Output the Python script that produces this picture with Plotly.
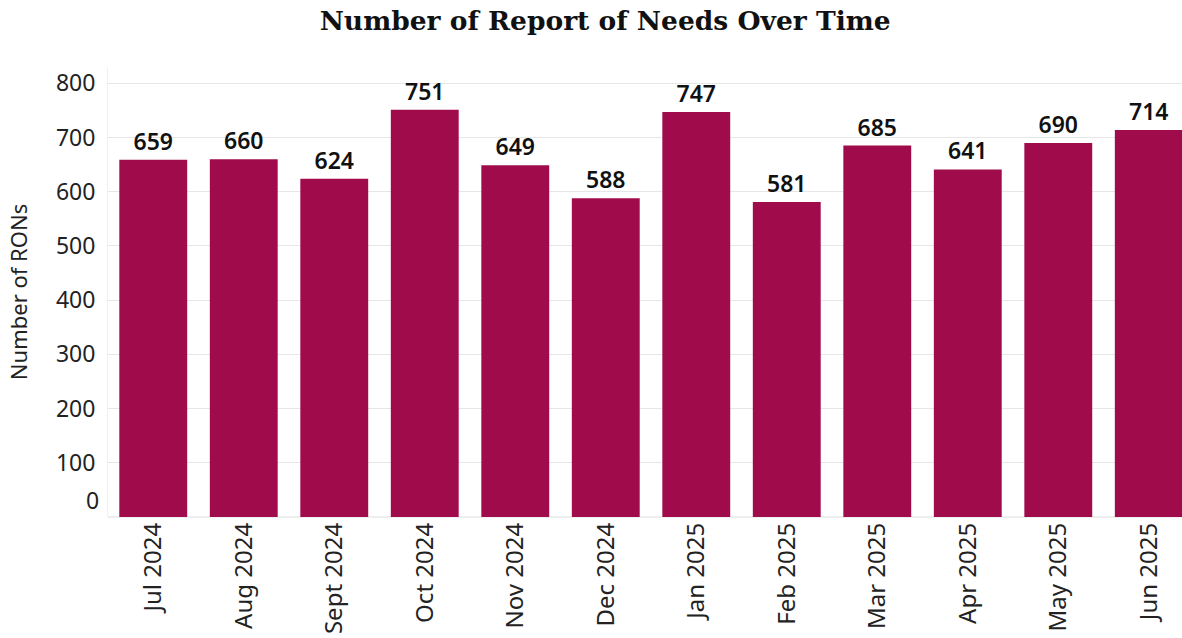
import plotly.graph_objects as go

months = ["Jul 2024", "Aug 2024", "Sept 2024", "Oct 2024", "Nov 2024", "Dec 2024",
          "Jan 2025", "Feb 2025", "Mar 2025", "Apr 2025", "May 2025", "Jun 2025"]
rons = [659, 660, 624, 751, 649, 588, 747, 581, 685, 641, 690, 714]
y_ticks = [100, 200, 300, 400, 500, 600, 700, 800]

fig = go.Figure(go.Bar(
    x=months, y=rons,
    marker=dict(color="#A00C4B", line=dict(width=0)),
    text=[str(v) for v in rons], textposition="outside",
    textfont=dict(family="Noto Sans", size=23, color="#111111", weight=600),
    cliponaxis=False,
))

fig.update_layout(
    width=1182, height=638,
    margin=dict(l=108, r=0, t=67, b=121),
    paper_bgcolor="white", plot_bgcolor="white",
    bargap=0.25,
    showlegend=False,
    title=dict(text="<b>Number of Report of Needs Over Time</b>", x=0.512, xanchor="center",
               y=0.982, yanchor="top",
               font=dict(family="DejaVu Serif", size=26.5, color="#111111")),
    font=dict(family="Noto Sans", color="#222222"),
)
fig.update_xaxes(
    tickangle=-90, tickfont=dict(size=24, color="#222222"),
    range=[-0.5, 11.367], showgrid=False, ticks="", showline=False,
)
fig.update_yaxes(
    range=[0, 830], tickvals=y_ticks, ticktext=[str(v) for v in y_ticks],
    tickfont=dict(size=23, color="#222222"),
    gridcolor="#E6E6E6", gridwidth=1, zeroline=True, zerolinecolor="#EEEEEE",
    showline=True, linecolor="#F0F0F0",
    title=dict(text="Number of RONs", font=dict(size=22, color="#222222"), standoff=22),
    ticklabelstandoff=7,
)
fig.add_annotation(x=0, xref="paper", y=0, yref="y", text="0", showarrow=False,
                   xanchor="right", yanchor="middle", xshift=-7, yshift=17,
                   font=dict(family="Noto Sans", size=23, color="#222222"))

fig.write_html("out.html")
